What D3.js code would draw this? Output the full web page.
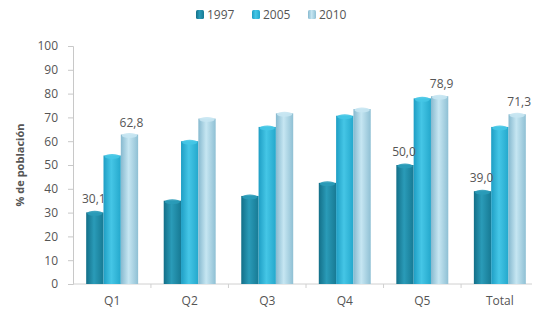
<!DOCTYPE html>
<html>
<head>
<meta charset="utf-8">
<script src="https://cdn.jsdelivr.net/npm/d3@7"></script>
<style>
  body { margin: 0; background: #fff; }
  text { font-family: "Open Sans", "DejaVu Sans", sans-serif; fill: #555; }
</style>
</head>
<body>
<svg id="chart" width="534" height="311"></svg>
<script>
categories = ["Q1", "Q2", "Q3", "Q4", "Q5", "Total"];
years = ["1997", "2005", "2010"];
values1997 = [30.1, 35.0, 37.0, 42.5, 50.0, 39.0];
values2005 = [54.0, 60.0, 66.0, 70.7, 78.0, 66.0];
values2010 = [62.8, 69.5, 71.7, 73.5, 78.9, 71.3];
labels1997 = ["30,1", "", "", "", "50,0", "39,0"];
labels2010 = ["62,8", "", "", "", "78,9", "71,3"];
yTicks = [0, 10, 20, 30, 40, 50, 60, 70, 80, 90, 100];

colors = {
  "1997": ["#136f88", "#2a9bb8", "#177a94"],
  "2005": ["#1e9ec4", "#45c6e6", "#24a8cc"],
  "2010": ["#86b9cf", "#c6e6f2", "#8fc0d4"]
};

margin = {top: 46, right: 0, bottom: 27, left: 73};
plotWidth = 466; // bars run right up to the edge
axisWidth = 534 - margin.left - 2;
height = 311 - margin.top - margin.bottom;

svg = d3.select("#chart");

// cylinder-ish gradients
defs = svg.append("defs");
years.forEach(function(y) {
  var g = defs.append("linearGradient")
    .attr("id", "g" + y)
    .attr("x1", "0").attr("x2", "1").attr("y1", "0").attr("y2", "0");
  g.append("stop").attr("offset", "0%").attr("stop-color", colors[y][0]);
  g.append("stop").attr("offset", "45%").attr("stop-color", colors[y][1]);
  g.append("stop").attr("offset", "100%").attr("stop-color", colors[y][2]);
});

chart = svg.append("g")
  .attr("transform", "translate(" + margin.left + "," + margin.top + ")");

x = d3.scaleBand()
  .domain(categories)
  .range([0, plotWidth])
  .paddingInner(0.33)
  .paddingOuter(0.17);

xs = d3.scaleBand()
  .domain(years)
  .range([0, x.bandwidth()])
  .padding(0);

y = d3.scaleLinear()
  .domain([0, 100])
  .range([height, 0]);

rows = categories.map(function(c, i) {
  return {cat: c, "1997": values1997[i], "2005": values2005[i], "2010": values2010[i]};
});

// y axis
yAxis = chart.append("g")
  .call(d3.axisLeft(y).tickValues(yTicks).tickSize(5).tickPadding(10));
yAxis.select(".domain").attr("stroke", "#c8c8c8");
yAxis.selectAll(".tick line").attr("stroke", "#c8c8c8");
yAxis.selectAll("text").attr("font-size", 12).attr("fill", "#555");

// x axis
xAxis = chart.append("g")
  .attr("transform", "translate(0," + height + ")")
  .call(d3.axisBottom(x).tickSize(0).tickPadding(12));
xAxis.select(".domain").remove();
chart.append("line")
  .attr("x1", 0).attr("x2", axisWidth)
  .attr("y1", height).attr("y2", height)
  .attr("stroke", "#d0d0d0");
xAxis.selectAll("text").attr("font-size", 12).attr("fill", "#555");
// separators between categories
chart.append("g").selectAll("line")
  .data(categories.slice(1))
  .enter().append("line")
  .attr("x1", function(d) { return x(d) - x.step() * x.paddingInner() / 2; })
  .attr("x2", function(d) { return x(d) - x.step() * x.paddingInner() / 2; })
  .attr("y1", height).attr("y2", height + 4)
  .attr("stroke", "#d0d0d0");

// bars
groups = chart.selectAll(".grp")
  .data(rows)
  .enter().append("g")
  .attr("class", "grp")
  .attr("transform", function(d) { return "translate(" + x(d.cat) + ",0)"; });

years.forEach(function(yr) {
  groups.append("rect")
    .attr("x", xs(yr))
    .attr("y", function(d) { return y(d[yr]); })
    .attr("width", xs.bandwidth())
    .attr("height", function(d) { return height - y(d[yr]); })
    .attr("fill", "url(#g" + yr + ")");
  groups.append("ellipse")
    .attr("cx", xs(yr) + xs.bandwidth() / 2)
    .attr("cy", function(d) { return y(d[yr]) + 1; })
    .attr("rx", xs.bandwidth() / 2 - 1)
    .attr("ry", 2.5)
    .attr("fill", colors[yr][1])
    .attr("opacity", 0.9);
});

// value labels
groups.append("text")
  .attr("x", xs("1997") + xs.bandwidth() / 2 - 1)
  .attr("y", function(d) { return y(d["1997"]) - 9; })
  .attr("text-anchor", "middle")
  .attr("font-size", 12)
  .text(function(d, i) { return labels1997[i]; });

groups.append("text")
  .attr("x", xs("2010") + xs.bandwidth() / 2 + 2)
  .attr("y", function(d) { return y(d["2010"]) - 8; })
  .attr("text-anchor", "middle")
  .attr("font-size", 12)
  .text(function(d, i) { return labels2010[i]; });

// y axis title
svg.append("text")
  .attr("transform", "translate(24," + (margin.top + height / 2) + ") rotate(-90)")
  .attr("text-anchor", "middle")
  .attr("font-size", 11)
  .attr("font-weight", "bold")
  .attr("fill", "#444")
  .text("% de población");

// legend
legend = svg.append("g").attr("transform", "translate(196,15)");
legendX = [0, 56, 112];
years.forEach(function(yr, i) {
  var lg = legend.append("g").attr("transform", "translate(" + legendX[i] + ",0)");
  lg.append("rect")
    .attr("x", 0).attr("y", -5)
    .attr("width", 8).attr("height", 9)
    .attr("rx", 1.5)
    .attr("fill", "url(#g" + yr + ")");
  lg.append("text")
    .attr("x", 11).attr("y", 4)
    .attr("font-size", 12)
    .text(yr);
});
</script>
</body>
</html>
